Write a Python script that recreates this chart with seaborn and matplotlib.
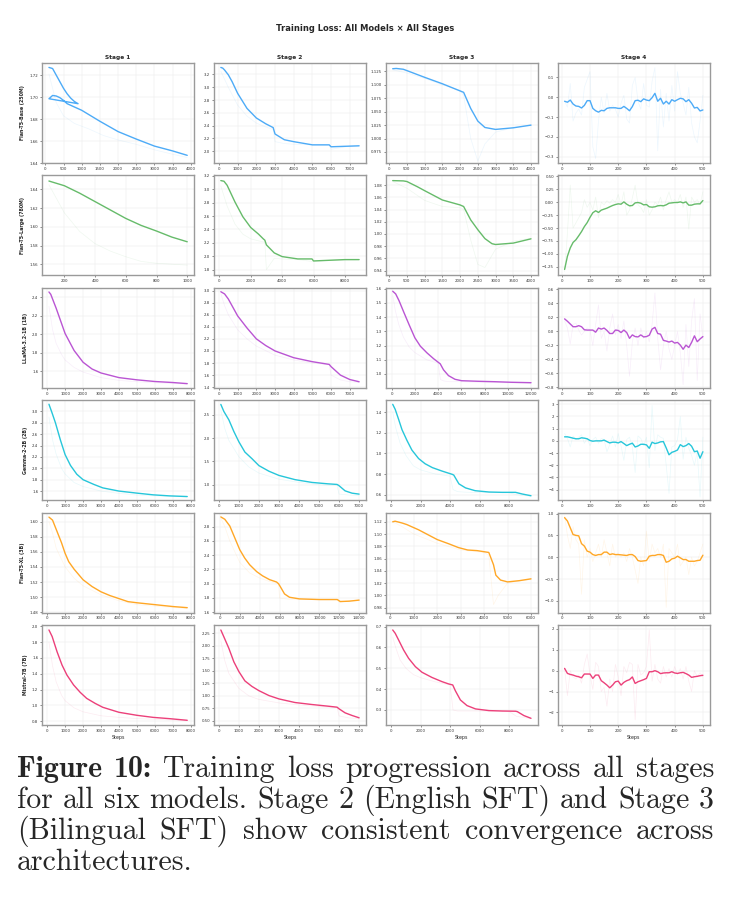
import matplotlib
matplotlib.use("Agg")
import matplotlib.pyplot as plt
import seaborn as sns
from matplotlib.ticker import MultipleLocator

# ---- данные: модели, цвета ----
models = ["Flan-T5-Base (250M)", "Flan-T5-Large (780M)", "LLaMA-3.2-1B (1B)",
          "Gemma-2-2B (2B)", "Flan-T5-XL (3B)", "Mistral-7B (7B)"]
colors = ["#4DABF7", "#66BB6A", "#BA55D3", "#26C6DA", "#FFA726", "#EC407A"]
stages = ["Stage 1", "Stage 2", "Stage 3", "Stage 4"]

# ---- Flan-T5-Base ----
base_s1_steps = [100, 200, 300, 400, 500, 600, 700, 800, 900,
                 100, 200, 300, 400, 500, 600, 1000, 1500, 2000, 2500, 3000, 3500, 3900]
base_s1_loss = [1.727, 1.726, 1.720, 1.714, 1.708, 1.703, 1.699, 1.696, 1.694,
                1.6985, 1.7015, 1.701, 1.6995, 1.697, 1.694, 1.688, 1.678, 1.6686, 1.6618, 1.6554, 1.651, 1.647]
base_s1_raw_steps = [100, 300, 500, 800, 1200, 1600, 2000, 2500, 3000, 3500, 3900]
base_s1_raw = [1.721, 1.695, 1.683, 1.676, 1.671, 1.665, 1.661, 1.657, 1.652, 1.648, 1.645]
base_s2_steps = [100, 200, 300, 500, 700, 1000, 1500, 2000, 2500, 2900, 3000, 3500, 4000, 5000, 5900, 6000, 7000, 7500]
base_s2_loss = [3.31, 3.30, 3.27, 3.195, 3.09, 2.905, 2.67, 2.52, 2.43, 2.37, 2.27, 2.18, 2.15, 2.10, 2.10, 2.07, 2.08, 2.085]
base_s2_raw_steps = [100, 500, 1000, 1500, 2000, 2500, 2900, 3000, 3500, 4000, 5000, 5900, 6000, 7000, 7500]
base_s2_raw = [3.25, 3.0, 2.72, 2.55, 2.44, 2.38, 2.34, 2.15, 2.12, 2.11, 2.10, 2.10, 2.03, 2.08, 2.085]
base_s3_steps = [100, 200, 400, 1000, 1500, 2100, 2300, 2500, 2700, 3000, 3500, 4000]
base_s3_loss = [1.130, 1.1305, 1.129, 1.114, 1.102, 1.086, 1.056, 1.0325, 1.0206, 1.017, 1.020, 1.025]
base_s3_raw_steps = [100, 500, 1000, 1500, 2000, 2100, 2300, 2500, 2700, 3000, 3500, 4000]
base_s3_raw = [1.128, 1.122, 1.112, 1.10, 1.09, 1.08, 1.0, 0.958, 0.99, 1.012, 1.02, 1.025]

# ---- Flan-T5-Large ----
large_s1_steps = [100, 200, 300, 400, 500, 600, 700, 800, 900, 1000]
large_s1_loss = [1.649, 1.644, 1.636, 1.627, 1.618, 1.609, 1.6015, 1.5955, 1.589, 1.584]
large_s1_raw_steps = [100, 200, 300, 400, 500, 600, 700, 800, 900, 1000]
large_s1_raw = [1.645, 1.615, 1.595, 1.582, 1.574, 1.568, 1.563, 1.561, 1.560, 1.559]
large_s2_steps = [100, 300, 500, 1000, 1500, 2000, 2500, 2800, 2900, 3000, 3500, 4000, 5000, 5900, 6000, 7000, 8000, 8900]
large_s2_loss = [3.13, 3.12, 3.06, 2.81, 2.59, 2.43, 2.33, 2.26, 2.24, 2.17, 2.05, 1.995, 1.96, 1.96, 1.93, 1.94, 1.95, 1.95]
large_s2_raw_steps = [100, 500, 1000, 1500, 2000, 2500, 2900, 3000, 3500, 4000, 5000, 6000, 7000, 8900]
large_s2_raw = [3.05, 2.75, 2.48, 2.33, 2.26, 2.23, 2.21, 1.80, 1.97, 1.96, 1.95, 1.92, 1.94, 1.95]
large_s3_steps = [100, 400, 500, 800, 1000, 1500, 2000, 2100, 2300, 2500, 2700, 2900, 3000, 3500, 4000]
large_s3_loss = [1.0875, 1.087, 1.086, 1.0773, 1.071, 1.0557, 1.0476, 1.045, 1.023, 1.007, 0.9924, 0.984, 0.9827, 0.985, 0.992]
large_s3_raw_steps = [100, 500, 1000, 1500, 2000, 2100, 2300, 2500, 2700, 3000, 3500, 4000]
large_s3_raw = [1.086, 1.075, 1.055, 1.045, 1.043, 1.04, 0.99, 0.95, 0.945, 0.975, 0.988, 0.993]

# ---- LLaMA-3.2-1B ----
llama_s1_steps = [100, 200, 500, 1000, 1500, 2000, 2500, 3000, 4000, 5000, 6000, 7000, 7800]
llama_s1_loss = [2.455, 2.43, 2.28, 2.006, 1.823, 1.696, 1.623, 1.58, 1.53, 1.506, 1.488, 1.477, 1.465]
llama_s1_raw_steps = [100, 300, 500, 800, 1000, 1500, 2000, 3000, 4000, 5000, 6000, 7800]
llama_s1_raw = [2.3, 2.05, 1.9, 1.78, 1.72, 1.64, 1.59, 1.53, 1.50, 1.485, 1.475, 1.46]
llama_s2_steps = [100, 300, 500, 1000, 1500, 2000, 2500, 3000, 4000, 5000, 5900, 6000, 6500, 7000, 7500]
llama_s2_loss = [2.98, 2.944, 2.86, 2.58, 2.38, 2.20, 2.09, 2.0, 1.888, 1.822, 1.777, 1.74, 1.60, 1.527, 1.49]
llama_s2_raw_steps = [100, 300, 500, 1000, 1500, 2000, 3000, 4000, 5000, 5900, 6000, 6500, 7000, 7500]
llama_s2_raw = [2.95, 2.75, 2.6, 2.35, 2.2, 2.08, 1.93, 1.85, 1.80, 1.77, 1.6, 1.52, 1.49, 1.48]
llama_s3_steps = [85, 340, 625, 1050, 1480, 1990, 2470, 3040, 3610, 4180, 4460, 4890, 5450, 6020, 7440, 8860, 10280, 12000]
llama_s3_loss = [1.583, 1.564, 1.517, 1.433, 1.35, 1.255, 1.195, 1.148, 1.107, 1.071, 1.029, 0.988, 0.962, 0.952, 0.948, 0.945, 0.941, 0.938]
llama_s3_raw_steps = [100, 300, 600, 1000, 1500, 2000, 3000, 4000, 4200, 4500, 5000, 6000, 8000, 12000]
llama_s3_raw = [1.55, 1.45, 1.35, 1.26, 1.19, 1.15, 1.10, 1.075, 0.96, 0.95, 0.945, 0.945, 0.94, 0.935]

# ---- Gemma-2-2B ----
gemma_s1_steps = [100, 270, 460, 735, 1000, 1300, 1650, 2000, 2600, 3100, 4000, 5000, 5900, 6800, 7800]
gemma_s1_loss = [3.125, 2.976, 2.8, 2.50, 2.24, 2.05, 1.896, 1.80, 1.717, 1.656, 1.60, 1.564, 1.534, 1.516, 1.504]
gemma_s1_raw_steps = [100, 300, 500, 800, 1000, 1500, 2000, 3000, 4000, 5000, 6000, 7800]
gemma_s1_raw = [2.9, 2.5, 2.25, 2.0, 1.9, 1.75, 1.68, 1.6, 1.56, 1.53, 1.515, 1.5]
gemma_s2_steps = [100, 250, 500, 750, 1000, 1300, 1650, 2000, 2500, 3000, 3800, 4650, 5450, 5900, 6000, 6300, 6650, 7000]
gemma_s2_loss = [2.72, 2.57, 2.39, 2.14, 1.92, 1.70, 1.56, 1.41, 1.29, 1.20, 1.11, 1.05, 1.02, 1.007, 0.98, 0.87, 0.82, 0.80]
gemma_s2_raw_steps = [100, 300, 500, 1000, 1500, 2000, 3000, 4000, 5000, 5900, 6000, 6500, 7000]
gemma_s2_raw = [2.6, 2.2, 1.95, 1.6, 1.38, 1.25, 1.12, 1.05, 1.0, 0.98, 0.8, 0.78, 0.77]
gemma_s3_steps = [100, 270, 500, 730, 1070, 1400, 1860, 2300, 2800, 3450, 4150, 4250, 4600, 5050, 5700, 6650, 7550, 8450, 8900, 9500]
gemma_s3_loss = [1.475, 1.426, 1.33, 1.23, 1.125, 1.033, 0.95, 0.90, 0.862, 0.829, 0.797, 0.79, 0.705, 0.666, 0.639, 0.626, 0.623, 0.623, 0.607, 0.59]
gemma_s3_raw_steps = [100, 300, 600, 1000, 1500, 2000, 3000, 4000, 4200, 4500, 5000, 6000, 8000, 8500, 9500]
gemma_s3_raw = [1.4, 1.25, 1.1, 0.98, 0.88, 0.84, 0.8, 0.78, 0.65, 0.63, 0.625, 0.62, 0.62, 0.6, 0.585]

# ---- Flan-T5-XL ----
xl_s1_steps = [100, 300, 500, 800, 1000, 1200, 1500, 2000, 2500, 3000, 3500, 4000, 4500, 5000, 6000, 7000, 7800]
xl_s1_loss = [1.606, 1.602, 1.590, 1.572, 1.558, 1.547, 1.537, 1.523, 1.514, 1.507, 1.502, 1.498, 1.494, 1.4925, 1.490, 1.4875, 1.486]
xl_s1_raw_steps = [100, 300, 500, 1000, 1500, 2000, 3000, 4000, 5000, 6000, 7800]
xl_s1_raw = [1.6, 1.585, 1.565, 1.54, 1.525, 1.515, 1.503, 1.495, 1.49, 1.488, 1.485]
xl_s2_steps = [100, 500, 1000, 1500, 2000, 2500, 3000, 3700, 4300, 5000, 5700, 5900, 6200, 6500, 7000, 8000, 10000, 11800, 12100, 13000, 14000]
xl_s2_loss = [2.937, 2.904, 2.81, 2.644, 2.478, 2.36, 2.266, 2.17, 2.11, 2.057, 2.024, 2.0, 1.93, 1.857, 1.81, 1.787, 1.778, 1.778, 1.75, 1.755, 1.77]
xl_s2_raw_steps = [100, 500, 1000, 2000, 3000, 4000, 5000, 5900, 6000, 7000, 8000, 10000, 11900, 12000, 13000, 14000]
xl_s2_raw = [2.92, 2.8, 2.6, 2.3, 2.15, 2.08, 2.03, 2.0, 1.80, 1.78, 1.78, 1.78, 1.78, 1.74, 1.76, 1.77]
xl_s3_steps = [100, 200, 500, 700, 1200, 1600, 2000, 2500, 2900, 3300, 3700, 4200, 4400, 4500, 4700, 5000, 5500, 6000]
xl_s3_loss = [1.12, 1.121, 1.118, 1.1155, 1.107, 1.099, 1.091, 1.084, 1.078, 1.074, 1.073, 1.07, 1.05, 1.033, 1.025, 1.022, 1.024, 1.027]
xl_s3_raw_steps = [100, 500, 1000, 2000, 3000, 4000, 4200, 4400, 4600, 5000, 5500, 6000]
xl_s3_raw = [1.12, 1.112, 1.10, 1.085, 1.074, 1.07, 1.065, 0.985, 1.0, 1.02, 1.024, 1.026]

# ---- Mistral-7B ----
mistral_s1_steps = [100, 280, 550, 830, 1100, 1470, 1840, 2200, 2670, 3100, 4000, 5000, 5900, 6800, 7800]
mistral_s1_loss = [1.954, 1.87, 1.68, 1.51, 1.385, 1.26, 1.166, 1.09, 1.027, 0.977, 0.914, 0.876, 0.85, 0.834, 0.813]
mistral_s1_raw_steps = [100, 300, 500, 800, 1000, 1500, 2000, 3000, 4000, 5000, 6000, 7800]
mistral_s1_raw = [1.8, 1.5, 1.3, 1.13, 1.06, 0.97, 0.92, 0.87, 0.85, 0.835, 0.825, 0.81]
mistral_s2_steps = [100, 250, 500, 750, 1000, 1300, 1650, 2000, 2500, 3000, 3800, 4650, 5450, 5900, 6000, 6300, 6650, 7000]
mistral_s2_loss = [2.316, 2.18, 1.95, 1.68, 1.486, 1.30, 1.19, 1.105, 1.007, 0.94, 0.868, 0.828, 0.795, 0.775, 0.742, 0.662, 0.609, 0.563]
mistral_s2_raw_steps = [100, 300, 500, 1000, 1500, 2000, 3000, 4000, 5000, 5900, 6000, 6500, 7000]
mistral_s2_raw = [2.1, 1.7, 1.45, 1.15, 1.0, 0.93, 0.86, 0.82, 0.79, 0.77, 0.6, 0.56, 0.55]
mistral_s3_steps = [100, 270, 500, 840, 1180, 1640, 2090, 2770, 3450, 3900, 4180, 4360, 4700, 5150, 5730, 6640, 7550, 8450, 8570, 9020, 9500]
mistral_s3_loss = [0.684, 0.668, 0.636, 0.588, 0.548, 0.508, 0.481, 0.456, 0.436, 0.425, 0.42, 0.392, 0.348, 0.321, 0.305, 0.297, 0.295, 0.294, 0.292, 0.273, 0.26]
mistral_s3_raw_steps = [100, 300, 600, 1000, 1500, 2000, 3000, 4000, 4200, 4500, 5000, 6000, 8000, 8500, 9500]
mistral_s3_raw = [0.65, 0.6, 0.54, 0.5, 0.47, 0.455, 0.435, 0.42, 0.30, 0.295, 0.295, 0.295, 0.293, 0.27, 0.258]

# ---- Stage 4 (шаги 10..500) ----
s4_steps = [10, 20, 30, 40, 50, 60, 70, 80, 90, 100,
            110, 120, 130, 140, 150, 160, 170, 180, 190, 200,
            210, 220, 230, 240, 250, 260, 270, 280, 290, 300,
            310, 320, 330, 340, 350, 360, 370, 380, 390, 400,
            410, 420, 430, 440, 450, 460, 470, 480, 490, 500]
base_s4 = [-0.020, -0.025, -0.014, -0.034, -0.044, -0.046, -0.054, -0.041, -0.017, -0.017,
           -0.056, -0.068, -0.075, -0.066, -0.068, -0.056, -0.053, -0.053, -0.053, -0.056,
           -0.056, -0.046, -0.056, -0.068, -0.047, -0.017, -0.015, -0.022, -0.008, -0.014,
           -0.017, -0.002, 0.020, -0.020, -0.005, -0.034, -0.020, -0.034, -0.012, -0.020,
           -0.012, -0.005, -0.008, -0.022, -0.012, -0.030, -0.054, -0.051, -0.069, -0.064]
base_s4_raw = [-0.02, -0.05, 0.07, -0.12, -0.08, -0.06, -0.09, 0.05, 0.09, 0.13,
               -0.25, -0.31, -0.12, 0.00, -0.08, 0.02, -0.07, -0.04, -0.06, -0.10,
               -0.03, 0.01, -0.11, -0.13, 0.06, 0.10, -0.02, -0.06, 0.07, -0.04,
               -0.05, 0.08, 0.15, -0.27, 0.04, -0.15, 0.02, -0.12, 0.06, -0.07,
               0.13, 0.02, -0.03, -0.09, 0.05, -0.13, -0.20, -0.23, -0.12, 0.01]
large_s4 = [-1.30, -1.045, -0.885, -0.778, -0.727, -0.65, -0.568, -0.472, -0.395, -0.293,
            -0.204, -0.166, -0.198, -0.153, -0.134, -0.115, -0.089, -0.064, -0.045, -0.032,
            -0.038, 0.006, -0.038, -0.070, -0.064, -0.013, -0.006, -0.019, -0.051, -0.045,
            -0.089, -0.096, -0.089, -0.070, -0.064, -0.070, -0.051, -0.019, -0.013, -0.006,
            -0.006, 0.006, -0.013, 0.006, -0.057, -0.057, -0.038, -0.032, -0.032, 0.032]
large_s4_raw = [-1.34, -0.60, 0.33, -0.50, -0.40, -0.30, -0.20, 0.05, -0.10, 0.00,
                -0.15, 0.10, -0.30, 0.00, -0.05, 0.03, -0.02, 0.05, 0.00, 0.15,
                -0.05, 0.20, -0.25, -0.15, 0.08, 0.33, -0.05, -0.10, -0.20, 0.05,
                -0.25, -0.15, 0.00, -0.05, 0.10, -0.15, 0.05, 0.20, 0.00, 0.05,
                0.00, 0.15, -0.10, 0.10, -0.52, 0.10, 0.00, 0.05, -0.05, 0.20]
llama_s4 = [0.180, 0.146, 0.107, 0.068, 0.068, 0.083, 0.068, 0.024, 0.020, 0.020,
            0.020, -0.010, 0.049, 0.034, 0.049, 0.015, -0.029, -0.029, 0.020, 0.015,
            -0.015, 0.020, -0.015, -0.098, -0.049, -0.073, -0.078, -0.049, -0.078, -0.073,
            -0.054, 0.034, 0.059, -0.029, -0.039, -0.127, -0.137, -0.151, -0.137, -0.166,
            -0.156, -0.195, -0.254, -0.195, -0.229, -0.156, -0.063, -0.146, -0.107, -0.073]
llama_s4_raw = [0.15, 0.05, -0.18, 0.10, 0.12, 0.02, -0.05, 0.00, 0.05, 0.02,
                -0.20, 0.10, 0.38, -0.10, 0.00, -0.28, 0.05, 0.25, -0.05, 0.10,
                -0.10, 0.15, -0.20, -0.64, -0.15, 0.05, -0.20, 0.05, -0.10, 0.00,
                -0.15, 0.10, 0.55, -0.10, -0.55, -0.20, 0.00, -0.25, -0.40, -0.20,
                0.00, -0.30, -0.76, 0.10, -0.50, 0.15, 0.47, -0.70, 0.25, -0.10]
gemma_s4 = [0.33, 0.33, 0.28, 0.22, 0.17, 0.17, 0.25, 0.22, 0.17, 0.03,
            -0.03, 0.0, 0.0, 0.0, 0.06, -0.06, -0.17, -0.11, -0.11, -0.17,
            -0.06, -0.22, -0.39, -0.28, -0.19, -0.50, -0.42, -0.28, -0.28, -0.33,
            -0.61, -0.11, -0.22, -0.17, -0.08, -0.06, -0.58, -1.14, -0.94, -0.86,
            -0.75, -0.31, -0.47, -0.39, -0.22, -0.44, -0.89, -0.83, -1.42, -0.89]
gemma_s4_raw = [0.6, 0.2, -0.5, 0.4, 0.1, 0.3, 0.5, -0.2, 0.2, -0.4,
                0.1, 0.3, -0.2, 0.2, 0.1, -0.9, -0.3, 0.4, -0.5, 0.6,
                -0.4, -1.6, 0.1, 0.3, -0.5, -2.6, 0.4, 0.2, -0.4, 0.3,
                -2.2, 2.9, -0.8, 0.5, 0.3, 0.2, -2.0, -4.3, -0.5, -0.4,
                0.1, 2.0, -1.5, 0.3, -0.6, -1.2, -2.0, -0.9, -4.6, 0.3]
xl_s4 = [0.907, 0.83, 0.675, 0.52, 0.50, 0.49, 0.31, 0.255, 0.14, 0.116,
         0.06, 0.04, 0.06, 0.06, 0.116, 0.116, 0.06, 0.077, 0.06, 0.06,
         0.054, 0.046, 0.04, 0.06, 0.06, 0.015, -0.077, -0.093, -0.085, -0.077,
         0.023, 0.04, 0.04, 0.06, 0.06, 0.04, -0.116, -0.093, -0.039, -0.023,
         0.023, -0.015, -0.054, -0.054, -0.093, -0.093, -0.093, -0.077, -0.070, 0.046]
xl_s4_raw = [0.95, 0.5, 0.2, 0.7, 0.4, 0.3, -0.85, 0.4, 0.0, 0.2,
             -0.1, 0.1, 0.3, 0.0, 0.4, 0.1, -0.2, 0.3, 0.0, 0.1,
             0.0, 0.1, -0.1, 0.2, 0.0, -0.3, -0.6, 0.0, -0.2, 0.6,
             -0.1, 0.3, 0.1, 0.2, 0.0, 0.3, -1.15, 0.2, 0.1, 0.0,
             0.3, -0.2, -0.1, 0.0, -0.4, 0.0, -0.2, -0.1, 0.1, 0.3]
mistral_s4 = [0.11, -0.13, -0.18, -0.21, -0.26, -0.29, -0.34, -0.16, -0.16, -0.16,
              -0.37, -0.21, -0.21, -0.48, -0.58, -0.69, -0.82, -0.69, -0.53, -0.50,
              -0.69, -0.56, -0.48, -0.43, -0.30, -0.61, -0.53, -0.48, -0.43, -0.37,
              -0.05, -0.05, 0.0, -0.05, -0.14, -0.11, -0.10, -0.10, -0.05, -0.11,
              -0.13, -0.10, -0.08, -0.14, -0.21, -0.32, -0.29, -0.27, -0.24, -0.22]
mistral_s4_raw = [0.1, -1.2, 0.0, -0.3, -0.4, -0.2, -0.6, 0.3, 0.8, -0.2,
                  -0.9, 0.4, 0.2, -1.0, -0.8, -1.7, -0.4, -1.0, 0.3, -0.3,
                  -1.2, 0.2, -0.1, 0.4, 0.3, -2.35, 0.3, -0.2, -0.1, 0.2,
                  1.95, -0.5, 0.3, -0.4, -0.6, 0.2, -0.3, 0.1, -0.3, 0.2,
                  -0.2, 0.1, -0.4, 0.2, -0.5, -1.0, 0.0, -0.3, -0.1, -0.3]

# таблица панелей: (шаги, сглаженная, шаги raw, raw)
panels = [
    [(base_s1_steps, base_s1_loss, base_s1_raw_steps, base_s1_raw),
     (base_s2_steps, base_s2_loss, base_s2_raw_steps, base_s2_raw),
     (base_s3_steps, base_s3_loss, base_s3_raw_steps, base_s3_raw),
     (s4_steps, base_s4, s4_steps, base_s4_raw)],
    [(large_s1_steps, large_s1_loss, large_s1_raw_steps, large_s1_raw),
     (large_s2_steps, large_s2_loss, large_s2_raw_steps, large_s2_raw),
     (large_s3_steps, large_s3_loss, large_s3_raw_steps, large_s3_raw),
     (s4_steps, large_s4, s4_steps, large_s4_raw)],
    [(llama_s1_steps, llama_s1_loss, llama_s1_raw_steps, llama_s1_raw),
     (llama_s2_steps, llama_s2_loss, llama_s2_raw_steps, llama_s2_raw),
     (llama_s3_steps, llama_s3_loss, llama_s3_raw_steps, llama_s3_raw),
     (s4_steps, llama_s4, s4_steps, llama_s4_raw)],
    [(gemma_s1_steps, gemma_s1_loss, gemma_s1_raw_steps, gemma_s1_raw),
     (gemma_s2_steps, gemma_s2_loss, gemma_s2_raw_steps, gemma_s2_raw),
     (gemma_s3_steps, gemma_s3_loss, gemma_s3_raw_steps, gemma_s3_raw),
     (s4_steps, gemma_s4, s4_steps, gemma_s4_raw)],
    [(xl_s1_steps, xl_s1_loss, xl_s1_raw_steps, xl_s1_raw),
     (xl_s2_steps, xl_s2_loss, xl_s2_raw_steps, xl_s2_raw),
     (xl_s3_steps, xl_s3_loss, xl_s3_raw_steps, xl_s3_raw),
     (s4_steps, xl_s4, s4_steps, xl_s4_raw)],
    [(mistral_s1_steps, mistral_s1_loss, mistral_s1_raw_steps, mistral_s1_raw),
     (mistral_s2_steps, mistral_s2_loss, mistral_s2_raw_steps, mistral_s2_raw),
     (mistral_s3_steps, mistral_s3_loss, mistral_s3_raw_steps, mistral_s3_raw),
     (s4_steps, mistral_s4, s4_steps, mistral_s4_raw)],
]

ylims = [
    [(1.640, 1.731), (1.816, 3.379), (0.9544, 1.1406), (-0.332, 0.173)],
    [(1.548, 1.655), (1.714, 3.207), (0.932, 1.096), (-1.416, 0.518)],
    [(1.42, 2.50), (1.39, 3.045), (0.902, 1.607), (-0.805, 0.624)],
    [(1.44, 3.196), (0.67, 2.81), (0.547, 1.515), (-4.86, 3.33)],
    [(1.4795, 1.612), (1.595, 2.998), (0.972, 1.135), (-1.27, 1.023)],
    [(0.754, 2.017), (0.42, 2.416), (0.228, 0.708), (-2.6, 2.19)],
]
xsteps = [[500, 1000, 500, 100], [200, 2000, 500, 100], [1000, 1000, 2000, 100],
          [1000, 1000, 2000, 100], [1000, 2000, 1000, 100], [1000, 1000, 2000, 100]]
ysteps = [[0.02, 0.2, 0.025, 0.1], [0.02, 0.2, 0.02, 0.25], [0.2, 0.2, 0.1, 0.2],
          [0.2, 0.5, 0.2, 1], [0.02, 0.2, 0.02, 0.5], [0.2, 0.25, 0.1, 1]]

sns.set_theme(style="whitegrid")
plt.rcParams["font.family"] = ["DejaVu Sans"]

fig, axes = plt.subplots(6, 4, figsize=(7.31, 9.07), dpi=100)
fig.subplots_adjust(left=0.0575, right=0.971, top=0.9305, bottom=0.2007,
                    wspace=0.13, hspace=0.124)

for r in range(6):
    for c in range(4):
        ax = axes[r, c]
        sx, sy, rx, ry = panels[r][c]
        col = colors[r]
        sns.lineplot(x=rx, y=ry, ax=ax, color=col, lw=0.5, alpha=0.1,
                     estimator=None, sort=False)
        sns.lineplot(x=sx, y=sy, ax=ax, color=col, lw=1.0,
                     estimator=None, sort=False)
        ax.set_ylim(*ylims[r][c])
        ax.xaxis.set_major_locator(MultipleLocator(xsteps[r][c]))
        ax.yaxis.set_major_locator(MultipleLocator(ysteps[r][c]))
        ax.tick_params(labelsize=2.8, length=1.5, width=0.4, pad=1.2,
                       colors="#333333", left=True, bottom=True)
        ax.grid(True, color="#e6e6e6", lw=0.3)
        ax.set_facecolor("white")
        for s in ax.spines.values():
            s.set_color("#9a9a9a")
            s.set_linewidth(1.0)
        if r == 0:
            ax.set_title(stages[c], fontsize=4.2, fontweight="bold", pad=3)
        if c == 0:
            ax.set_ylabel(models[r], fontsize=3.4, fontweight="bold", labelpad=3)
        else:
            ax.set_ylabel("")
        if r == 5:
            ax.set_xlabel("Steps", fontsize=3.4, labelpad=1.5)
        else:
            ax.set_xlabel("")

fig.suptitle("Training Loss: All Models × All Stages", y=0.974,
             fontsize=6.0, fontweight="bold")

# ---- подпись (выравнивание по ширине) ----
cap_size = 21.5
cap_lines = [
    [("Figure", True), ("10:", True), ("Training", False), ("loss", False),
     ("progression", False), ("across", False), ("all", False), ("stages", False)],
    [("for", False), ("all", False), ("six", False), ("models.", False), ("Stage", False),
     ("2", False), ("(English", False), ("SFT)", False), ("and", False), ("Stage", False), ("3", False)],
    [("(Bilingual", False), ("SFT)", False), ("show", False), ("consistent", False),
     ("convergence", False), ("across", False)],
    [("architectures.", False)],
]
baselines = [777, 808, 839, 870]
left_px, right_px = 17, 714
W, H = 731, 907

fig.canvas.draw()
renderer = fig.canvas.get_renderer()


def word_w(word, bold):
    t = fig.text(0, 0, word, fontsize=cap_size, family="cmb10" if bold else "cmr10")
    w = t.get_window_extent(renderer).width
    t.remove()
    return w


space_px = cap_size * 100 / 72 * 0.333
for i, line in enumerate(cap_lines):
    widths = [word_w(w, b) for w, b in line]
    if i < len(cap_lines) - 1 and len(line) > 1:
        gap = (right_px - left_px - sum(widths)) / (len(line) - 1)
    else:
        gap = space_px
    x = left_px
    for (word, bold), w in zip(line, widths):
        fig.text(x / W, 1 - baselines[i] / H, word, fontsize=cap_size,
                 family="cmb10" if bold else "cmr10", va="baseline", ha="left")
        x += w + gap

fig.savefig("out.png", dpi=100)
